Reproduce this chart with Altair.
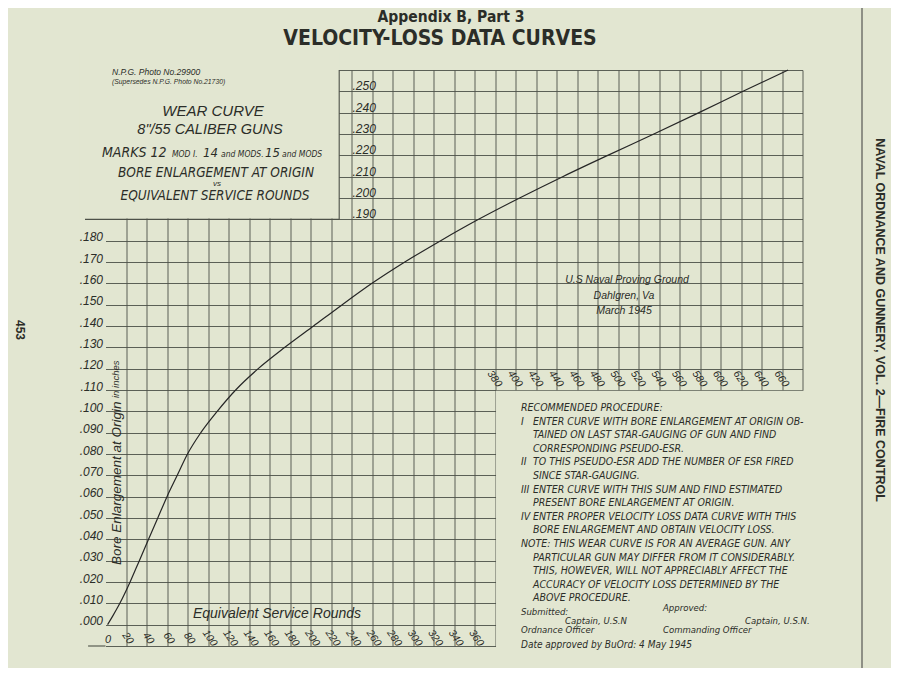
import altair as alt
import pandas as pd

# ---------------- data ----------------
curve_rounds = [2, 7, 14, 24, 33, 42, 51, 60, 70, 80, 93, 109, 127, 149, 175, 203,
                231, 260, 292, 327, 364, 404, 446, 490, 535, 579, 622, 666]
curve_bore = [0.000, 0.004, 0.010, 0.020, 0.030, 0.040, 0.050, 0.060, 0.070, 0.080,
              0.090, 0.100, 0.110, 0.120, 0.130, 0.140, 0.150, 0.160, 0.170, 0.180,
              0.190, 0.200, 0.210, 0.220, 0.230, 0.240, 0.250, 0.260]

x_grid = [20 * i for i in range(1, 35)]                     # 20 ... 680
y_grid = [round(-0.01 + 0.01 * i, 3) for i in range(28)]    # -.010 ... .260
x_labels_bottom = [20 * i for i in range(1, 19)]            # 20 ... 360
x_labels_right = [20 * i for i in range(19, 34)]            # 380 ... 660
y_labels_top = [0.19, 0.20, 0.21, 0.22, 0.23, 0.24, 0.25]

procedure_lines = [
    ("", "RECOMMENDED  PROCEDURE:"),
    ("I", "ENTER CURVE WITH BORE ENLARGEMENT AT ORIGIN OB-"),
    ("", "TAINED ON LAST STAR-GAUGING OF GUN AND FIND"),
    ("", "CORRESPONDING PSEUDO-ESR."),
    ("II", "TO THIS PSEUDO-ESR ADD THE NUMBER OF ESR FIRED"),
    ("", "SINCE STAR-GAUGING."),
    ("III", "ENTER CURVE WITH THIS SUM AND FIND ESTIMATED"),
    ("", "PRESENT BORE ENLARGEMENT AT ORIGIN."),
    ("IV", "ENTER PROPER VELOCITY LOSS DATA CURVE WITH THIS"),
    ("", "BORE ENLARGEMENT AND OBTAIN VELOCITY LOSS."),
    ("", "NOTE: THIS WEAR CURVE IS FOR AN AVERAGE GUN.  ANY"),
    ("", "PARTICULAR GUN MAY DIFFER FROM IT CONSIDERABLY."),
    ("", "THIS, HOWEVER, WILL NOT APPRECIABLY AFFECT THE"),
    ("", "ACCURACY OF VELOCITY LOSS DETERMINED BY THE"),
    ("", "ABOVE PROCEDURE."),
]

# ---------------- style / layout ----------------
PAPER = "#e2e6d1"
INK = "#2b2d28"
GRID = "#4d5148"
LETTER = "Liberation Sans"
NARROW = "Liberation Sans Narrow, DejaVu Sans Condensed, Liberation Sans"
OX, OY = 105.5, 70.0          # page position of the plot origin
W, H = 697, 576

XS = alt.Scale(domain=[0, 680], nice=False, zero=False)
YS = alt.Scale(domain=[-0.01, 0.26], nice=False, zero=False)
XAXIS = alt.Axis(values=x_grid, grid=True, labels=False, ticks=False, domain=False,
                 title=None, gridColor=GRID, gridWidth=1, gridOpacity=0.9)
YAXIS = alt.Axis(values=y_grid, grid=True, ticks=False, domain=False, title=None,
                 gridColor=GRID, gridWidth=1, gridOpacity=0.9,
                 labelExpr="datum.value > 0.185 || datum.value < -0.001 ? '' : "
                           "replace(format(datum.value, '.3f'), '0.', '.')",
                 labelFont=LETTER, labelFontStyle="italic", labelFontSize=12,
                 labelColor=INK, labelPadding=3, labelBaseline="alphabetic")


def X(f):
    return alt.X(f, type="quantitative", scale=XS, axis=XAXIS)


def Y(f):
    return alt.Y(f, type="quantitative", scale=YS, axis=YAXIS)


one = pd.DataFrame({"k": [0]})


def txt(s, px, py, size=11, align="left", baseline="middle", angle=0,
        weight="normal", style="italic", font=LETTER):
    return alt.Chart(one).mark_text(
        text=s, align=align, baseline=baseline, angle=angle, fontSize=size,
        fontWeight=weight, fontStyle=style, font=font, color=INK
    ).encode(x=alt.value(px - OX), y=alt.value(py - OY))


layers = []

# curve (carries the axes / grid)
curve_df = pd.DataFrame({"rounds": curve_rounds, "bore": curve_bore})
curve = alt.Chart(curve_df).mark_line(color="#262626", strokeWidth=1.2,
                                      interpolate="monotone").encode(
    x=X("rounds"), y=Y("bore"))

# boxes that hide the grid (title box and procedure box)
boxes = pd.DataFrame({"x0": [-25, 381], "x1": [228, 700],
                      "y0": [0.1904, -0.013], "y1": [0.268, 0.1096]})
cover = alt.Chart(boxes).mark_rect(color=PAPER).encode(
    x=X("x0"), x2="x1", y=Y("y0"), y2="y1")
layers.append(cover)

hrules = pd.DataFrame({"x0": [-20, -17], "x1": [228, 0], "y": [0.19, -0.01]})
layers.append(alt.Chart(hrules).mark_rule(color=GRID, strokeWidth=1.1).encode(
    x=X("x0"), x2="x1", y=Y("y")))
vrules = pd.DataFrame({"x": [228], "y0": [0.19], "y1": [0.26]})
layers.append(alt.Chart(vrules).mark_rule(color=GRID, strokeWidth=1.1).encode(
    x=X("x"), y=Y("y0"), y2="y1"))

# page border line on the right
layers.append(alt.Chart(one).mark_rule(color="#3a3a3a", strokeWidth=1).encode(
    x=alt.value(862 - OX), y=alt.value(-62), y2=alt.value(598)))

layers.append(curve)

# x labels (stacked / slanted digits)
bl = pd.DataFrame({"v": x_labels_bottom, "y": [-0.0052] * len(x_labels_bottom)})
bl["t"] = bl["v"].astype(str)
layers.append(alt.Chart(bl).mark_text(angle=55, fontSize=10.5, fontStyle="italic",
                                      font=LETTER, color=INK, dx=3).encode(
    x=X("v"), y=Y("y"), text="t:N"))
rl = pd.DataFrame({"v": x_labels_right, "y": [0.1148] * len(x_labels_right)})
rl["t"] = rl["v"].astype(str)
layers.append(alt.Chart(rl).mark_text(angle=55, fontSize=10.5, fontStyle="italic",
                                      font=LETTER, color=INK, dx=-1).encode(
    x=X("v"), y=Y("y"), text="t:N"))
layers.append(txt("0", 105, 640, size=11))

# top y labels inside the grid
tl = pd.DataFrame({"v": y_labels_top, "x": [240] * len(y_labels_top)})
tl["t"] = tl["v"].map(lambda v: ("%.3f" % v)[1:])
layers.append(alt.Chart(tl).mark_text(align="left", baseline="alphabetic", dx=1,
                                      dy=-1, fontSize=12, fontStyle="italic",
                                      font=LETTER, color=INK).encode(
    x=X("x"), y=Y("v"), text="t:N"))

# page header
layers.append(txt("Appendix B, Part 3", 451, 16.5, size=15.5, align="center",
                  weight="bold", style="normal", font=NARROW))
layers.append(txt("VELOCITY-LOSS DATA CURVES", 440, 39, size=21, align="center",
                  weight="bold", style="normal", font=NARROW))
layers.append(txt("NAVAL ORDNANCE AND GUNNERY, VOL. 2\u2014FIRE CONTROL", 880, 320,
                  size=12.5, align="center", angle=90, weight="bold", style="normal"))
layers.append(txt("453", 20, 330, size=12, align="center", angle=90,
                  weight="bold", style="normal"))

# title box
layers.append(txt("N.P.G. Photo No.29900", 112, 72, size=8.5))
layers.append(txt("(Supersedes N.P.G. Photo No.21730)", 112, 82, size=6.8))
layers.append(txt("WEAR CURVE", 213, 111, size=15, align="center"))
layers.append(txt('8"/55 CALIBER GUNS', 210, 130, size=14.5, align="center"))
for s, px, sz in [("MARKS 12", 102, 14), ("MOD I.", 172, 8.5), ("14", 203, 13),
                  ("and MODS.", 221, 8.5), ("15", 265, 13), ("and MODS", 282, 8.5)]:
    layers.append(txt(s, px, 152, size=sz, baseline="alphabetic", font=NARROW)
                  .encode(y=alt.value(157 - OY)))
layers.append(txt("BORE ENLARGEMENT AT ORIGIN", 216, 173, size=13.5, align="center",
                  font=NARROW))
layers.append(txt("vs", 217, 184, size=8, align="center"))
layers.append(txt("EQUIVALENT SERVICE ROUNDS", 215, 196, size=13.5, align="center",
                  font=NARROW))

# proving ground note
layers.append(txt("U.S Naval Proving Ground", 627, 280, size=10.5, align="center"))
layers.append(txt("Dahlgren, Va", 624, 296, size=10.5, align="center"))
layers.append(txt("March 1945", 624, 311, size=10.5, align="center"))

# axis titles
layers.append(txt("Bore Enlargement at Origin", 117, 565, size=13.5, angle=270))
layers.append(txt("in inches", 116, 398, size=9.5, angle=270))
layers.append(txt("Equivalent Service Rounds", 277, 614, size=14, align="center"))

# procedure text
for i, (num, line) in enumerate(procedure_lines):
    py = 408 + i * 13.6
    if num:
        layers.append(txt(num, 521, py, size=10.5, font=NARROW))
    px = 521 if (i == 0 or line.startswith("NOTE")) else 533
    layers.append(txt(line, px, py, size=10.5, font=NARROW))

layers.append(txt("Submitted:", 521, 612, size=9.5, font=NARROW))
layers.append(txt("Captain, U.S.N", 565, 621, size=9.5, font=NARROW))
layers.append(txt("Ordnance Officer", 521, 630, size=9.5, font=NARROW))
layers.append(txt("Approved:", 663, 608, size=9.5, font=NARROW))
layers.append(txt("Captain, U.S.N.", 745, 621, size=9.5, font=NARROW))
layers.append(txt("Commanding Officer", 663, 630, size=9.5, font=NARROW))
layers.append(txt("Date approved by BuOrd: 4 May 1945", 521, 645, size=10, font=NARROW))

chart = alt.layer(*layers).properties(
    width=W, height=H, autosize="none",
    padding={"left": OX - 8, "top": OY - 8, "right": 899 - 16 - (OX - 8) - W,
             "bottom": 660 - (OY - 8) - H},
).configure(background=PAPER).configure_view(stroke=None)

chart.save("out.html", embed_options={"renderer": "svg", "actions": False})
